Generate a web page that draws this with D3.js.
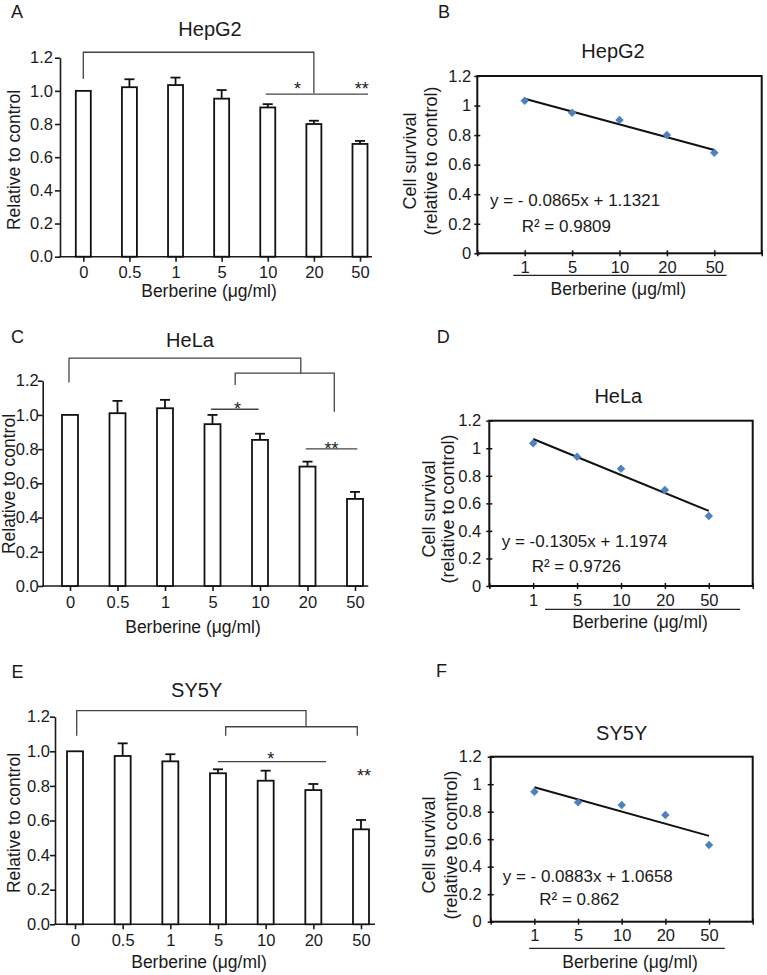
<!DOCTYPE html>
<html>
<head>
<meta charset="utf-8">
<script src="https://cdn.jsdelivr.net/npm/d3@7"></script>
<style>
  html, body { margin: 0; padding: 0; background: #fff; }
  text { font-family: "Liberation Sans", Arial, sans-serif; fill: #1a1a1a; }
</style>
</head>
<body>
<script>
// ---------------- DATA ----------------
const concentrations = ["0", "0.5", "1", "5", "10", "20", "50"];
const yTickValues = [0, 0.2, 0.4, 0.6, 0.8, 1.0, 1.2];

const hepg2Mean = [1.0, 1.022, 1.035, 0.953, 0.900, 0.800, 0.680];
const hepg2Err  = [0, 0.048, 0.045, 0.052, 0.020, 0.020, 0.018];

const helaMean  = [1.0, 1.010, 1.039, 0.946, 0.854, 0.698, 0.509];
const helaErr   = [0, 0.072, 0.049, 0.054, 0.036, 0.029, 0.041];

const sy5yMean  = [1.0, 0.973, 0.942, 0.873, 0.830, 0.776, 0.549];
const sy5yErr   = [0, 0.073, 0.041, 0.023, 0.058, 0.035, 0.054];

const fitCategories = ["1", "5", "10", "20", "50"];
const hepg2Survival = [1.033, 0.952, 0.902, 0.800, 0.681];
const helaSurvival  = [1.036, 0.939, 0.852, 0.697, 0.508];
const sy5ySurvival  = [0.945, 0.868, 0.849, 0.776, 0.558];

const hepg2Fit = {slope: -0.0865, intercept: 1.1321, eq: "y = - 0.0865x + 1.1321", r2: "R² = 0.9809"};
const helaFit  = {slope: -0.1305, intercept: 1.1974, eq: "y = -0.1305x + 1.1974",  r2: "R² = 0.9726"};
const sy5yFit  = {slope: -0.0883, intercept: 1.0658, eq: "y = - 0.0883x + 1.0658", r2: "R² = 0.862"};

const scatterYTicks = [0, 0.2, 0.4, 0.6, 0.8, 1, 1.2];

// ---------------- SETUP ----------------
const W = 767, H = 975;
const svg = d3.select("body").append("svg").attr("width", W).attr("height", H);
const FONT = '"Liberation Sans", Arial, sans-serif';
const TICK_FS = 16.5;

function label(g, x, y, str, size, anchor) {
  return g.append("text").attr("x", x).attr("y", y).attr("font-size", size)
    .attr("text-anchor", anchor || "start").text(str);
}

// ---------------- BAR PANELS ----------------
function barPanel(cfg) {
  const g = svg.append("g");
  const x = d3.scalePoint().domain(concentrations).range([cfg.first, cfg.last]);
  const y = d3.scaleLinear().domain([0, 1.2]).range([cfg.y0, cfg.y12]);

  label(g, cfg.letter[0], cfg.letter[1], cfg.letter[2], 18);
  label(g, cfg.title[0], cfg.title[1], cfg.title[2], 20, "middle");

  // y axis
  const ya = g.append("g").attr("transform", `translate(${cfg.ax0},0)`)
    .call(d3.axisLeft(y).tickValues(yTickValues).tickFormat(d3.format(".1f"))
      .tickSize(5).tickSizeOuter(0).tickPadding(cfg.yPad));
  ya.selectAll("text").attr("font-size", TICK_FS).attr("font-family", FONT).attr("fill", "#1a1a1a");
  ya.selectAll("path,line").attr("stroke", "#1a1a1a").attr("stroke-width", 1.6);

  // x axis
  const xa = g.append("g").attr("transform", `translate(0,${cfg.y0})`)
    .call(d3.axisBottom(x).tickSize(5).tickPadding(5));
  xa.select(".domain").remove();
  xa.selectAll("text").attr("font-size", TICK_FS).attr("font-family", FONT).attr("fill", "#1a1a1a");
  xa.selectAll("line").attr("stroke", "#1a1a1a").attr("stroke-width", 1.6);
  g.append("line").attr("x1", cfg.ax0 - 0.8).attr("x2", cfg.axEnd)
    .attr("y1", cfg.y0).attr("y2", cfg.y0).attr("stroke", "#1a1a1a").attr("stroke-width", 1.6);

  const data = concentrations.map((c, i) => ({c, v: cfg.mean[i], e: cfg.err[i]}));
  g.selectAll("rect.bar").data(data).join("rect").attr("class", "bar")
    .attr("x", d => x(d.c) - cfg.bw / 2).attr("width", cfg.bw)
    .attr("y", d => y(d.v)).attr("height", d => y(0) - y(d.v))
    .attr("fill", "#fff").attr("stroke", "#111").attr("stroke-width", 1.8);

  const eb = data.filter(d => d.e > 0);
  g.selectAll("line.err").data(eb).join("line").attr("class", "err")
    .attr("x1", d => x(d.c)).attr("x2", d => x(d.c))
    .attr("y1", d => y(d.v)).attr("y2", d => y(d.v + d.e))
    .attr("stroke", "#111").attr("stroke-width", 1.8);
  g.selectAll("line.cap").data(eb).join("line").attr("class", "cap")
    .attr("x1", d => x(d.c) - 5).attr("x2", d => x(d.c) + 5)
    .attr("y1", d => y(d.v + d.e)).attr("y2", d => y(d.v + d.e))
    .attr("stroke", "#111").attr("stroke-width", 1.8);

  // y title
  g.append("text").attr("transform", `translate(${cfg.ytitle[0]},${cfg.ytitle[1]}) rotate(-90)`)
    .attr("text-anchor", "middle").attr("dy", "0.35em").attr("font-size", 17.5)
    .text("Relative to control");
  label(g, cfg.xtitle[0], cfg.xtitle[1], "Berberine (μg/ml)", 17.5, "middle");

  // significance annotations
  const ann = g.append("g").attr("fill", "none").attr("stroke", "#444").attr("stroke-width", 1.3);
  cfg.brackets.forEach(pts => {
    ann.append("path").attr("d", d3.line()(pts.map(p => [x(p[0]) + p[1], y(p[2])])));
  });
  cfg.stars.forEach(s => {
    label(g, x(s[0]) + s[1], y(s[2]), s[3], 18, "middle").attr("fill", "#222");
  });
}

barPanel({
  mean: hepg2Mean, err: hepg2Err,
  ax0: 60, axEnd: 372, first: 83.3, last: 360, y0: 256.7, y12: 57.7, bw: 15, yPad: 2,
  letter: [11, 18.3, "A"], title: [210, 36, "HepG2"],
  ytitle: [13.5, 160], xtitle: [209, 297],
  brackets: [
    [["0", 0, 1.072], ["0", 0, 1.233], ["20", 0, 1.233], ["20", 0, 0.986]],
    [["10", -2, 0.98], ["50", 8, 0.98]]
  ],
  stars: [["20", -16.5, 0.973, "*"], ["50", 1.7, 0.973, "**"]]
});

barPanel({
  mean: helaMean, err: helaErr,
  ax0: 42.7, axEnd: 368.3, first: 70, last: 355, y0: 586, y12: 380.7, bw: 16, yPad: -1,
  letter: [11, 343.3, "C"], title: [190, 346.7, "HeLa"],
  ytitle: [8.5, 484], xtitle: [193, 633],
  brackets: [
    [["0", -1, 1.189], ["0", -1, 1.332], ["20", -6.7, 1.332], ["20", -6.7, 1.244]],
    [["5", 22.7, 1.175], ["5", 22.7, 1.244], ["50", -20.7, 1.244], ["50", -20.7, 1.019]],
    [["5", -1.6, 1.033], ["10", -1.4, 1.033]],
    [["20", -1.7, 0.801], ["50", 2.3, 0.801]]
  ],
  stars: [["5", 25, 0.998, "*"], ["20", 24, 0.764, "**"]]
});

barPanel({
  mean: sy5yMean, err: sy5yErr,
  ax0: 55, axEnd: 375, first: 75, last: 361, y0: 924.3, y12: 716.7, bw: 16, yPad: 0,
  letter: [11.5, 678.3, "E"], title: [196.7, 697.3, "SY5Y"],
  ytitle: [13.5, 823], xtitle: [199, 968],
  brackets: [
    [["0", 1.7, 1.090], ["0", 1.7, 1.235], ["20", -7.3, 1.235], ["20", -7.3, 1.142]],
    [["5", 7.7, 1.090], ["5", 7.7, 1.142], ["50", -3.7, 1.142], ["50", -3.7, 1.090]],
    [["5", 0, 0.94], ["20", 12.7, 0.94]]
  ],
  stars: [["10", 5, 0.919, "*"], ["50", 3, 0.8225, "**"]]
});

// ---------------- SCATTER / FIT PANELS ----------------
function fitPanel(cfg) {
  const g = svg.append("g");
  const x = d3.scaleLinear().domain([0, 6]).range([cfg.left, cfg.right]);
  const y = d3.scaleLinear().domain([0, 1.2]).range([cfg.bottom, cfg.top]);

  label(g, cfg.letter[0], cfg.letter[1], cfg.letter[2], 18);
  label(g, cfg.title[0], cfg.title[1], cfg.title[2], 20, "middle");

  // y axis with crossing ticks
  const ya = g.append("g").attr("transform", `translate(${cfg.left},0)`)
    .call(d3.axisLeft(y).tickValues(scatterYTicks).tickFormat(d3.format("~g"))
      .tickSize(3).tickSizeOuter(0).tickPadding(cfg.yPad));
  ya.select(".domain").remove();
  ya.selectAll(".tick line").attr("x1", 3).attr("stroke", "#111").attr("stroke-width", 1.5);
  ya.selectAll("text").attr("font-size", TICK_FS).attr("font-family", FONT).attr("fill", "#1a1a1a");

  // x axis with crossing ticks, labels at 1..5
  const xa = g.append("g").attr("transform", `translate(0,${cfg.bottom})`)
    .call(d3.axisBottom(x).tickValues(d3.range(0, 7))
      .tickFormat(i => fitCategories[i - 1] || "").tickSize(3).tickSizeOuter(0).tickPadding(5));
  xa.select(".domain").remove();
  xa.selectAll(".tick line").attr("y1", -3).attr("stroke", "#111").attr("stroke-width", 1.5);
  xa.selectAll("text").attr("font-size", TICK_FS).attr("font-family", FONT).attr("fill", "#1a1a1a");

  // plot box
  g.append("rect").attr("x", cfg.left).attr("y", cfg.top)
    .attr("width", cfg.right - cfg.left).attr("height", cfg.bottom - cfg.top)
    .attr("fill", "none").attr("stroke", "#111").attr("stroke-width", 2);

  // fitted line
  const fx = [1, 5];
  g.append("path")
    .attr("d", d3.line()(fx.map(i => [x(i), y(cfg.fit.slope * i + cfg.fit.intercept)])))
    .attr("stroke", "#111").attr("stroke-width", 2).attr("fill", "none");

  // points (diamonds)
  const sym = d3.symbol().type(d3.symbolSquare).size(36);
  g.selectAll("path.pt").data(cfg.values).join("path").attr("class", "pt")
    .attr("d", sym)
    .attr("transform", (d, i) => `translate(${x(i + 1)},${y(d)}) rotate(45)`)
    .attr("fill", "#4f81bd");

  label(g, cfg.eq[0], cfg.eq[1], cfg.fit.eq, 17);
  label(g, cfg.r2[0], cfg.r2[1], cfg.fit.r2, 17);

  // underline and x title
  g.append("line").attr("x1", x(cfg.under[0])).attr("x2", x(cfg.under[1]))
    .attr("y1", cfg.under[2]).attr("y2", cfg.under[2])
    .attr("stroke", "#222").attr("stroke-width", 1.3);
  label(g, cfg.xtitle[0], cfg.xtitle[1], "Berberine (μg/ml)", 17.5, "middle");

  // y title (two lines)
  g.append("text").attr("transform", `translate(${cfg.yt1},${cfg.ytY}) rotate(-90)`)
    .attr("text-anchor", "middle").attr("dy", "0.35em").attr("font-size", 18).text("Cell survival");
  g.append("text").attr("transform", `translate(${cfg.yt2},${cfg.ytY}) rotate(-90)`)
    .attr("text-anchor", "middle").attr("dy", "0.35em").attr("font-size", 18).text("(relative to control)");
}

fitPanel({
  values: hepg2Survival, fit: hepg2Fit,
  left: 477.3, right: 761.7, top: 76, bottom: 253.3, yPad: 3,
  letter: [438, 18.3, "B"], title: [613, 58.3, "HepG2"],
  eq: [490, 205.7], r2: [521.7, 232.3],
  under: [0.76, 5.26, 275.3], xtitle: [618.3, 295],
  yt1: 410, yt2: 430.5, ytY: 161
});

fitPanel({
  values: helaSurvival, fit: helaFit,
  left: 489.3, right: 752.7, top: 420.7, bottom: 586, yPad: 5,
  letter: [436.7, 343.3, "D"], title: [618.3, 403.3, "HeLa"],
  eq: [501.7, 547.3], r2: [531.7, 572.3],
  under: [1.27, 5.71, 609.3], xtitle: [640, 628.3],
  yt1: 428.3, yt2: 447.5, ytY: 509
});

fitPanel({
  values: sy5ySurvival, fit: sy5yFit,
  left: 490.7, right: 752.7, top: 756.7, bottom: 921.7, yPad: 6,
  letter: [436, 677.3, "F"], title: [621.7, 740, "SY5Y"],
  eq: [502.7, 881.7], r2: [539.3, 905],
  under: [0.88, 5.36, 948.3], xtitle: [630, 968.3],
  yt1: 428.3, yt2: 450.8, ytY: 845
});
</script>
</body>
</html>
